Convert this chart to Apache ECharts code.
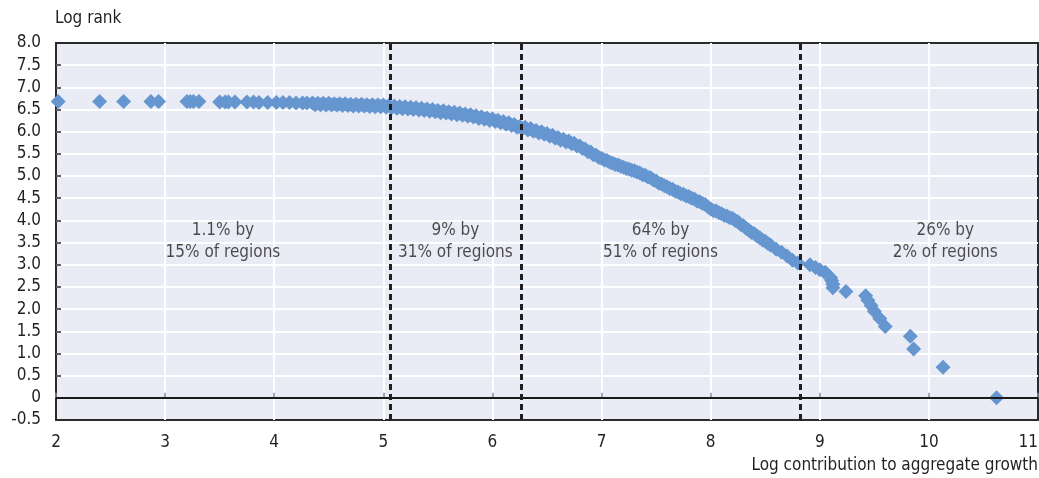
<!DOCTYPE html>
<html>
<head>
<meta charset="utf-8">
<script src="https://cdn.jsdelivr.net/npm/echarts@6/dist/echarts.min.js"></script>
<style>
html,body{margin:0;padding:0;background:#fff;}
#c{width:1039px;height:478px;}
</style>
</head>
<body>
<div id="c"></div>
<script>
// Log contribution to aggregate growth (x) and log rank (y)
var logContribution = [
  2.02,2.40,2.62,2.87,2.94,3.20,3.23,3.26,3.31,3.50,3.55,3.58,3.64,3.75,3.81,3.86,3.94,4.02,4.08,4.14,4.20,4.26,4.30,
  4.35,4.40,4.45,4.50,4.55,4.60,4.65,4.70,4.75,4.80,4.85,4.90,4.95,5.00,5.05,5.10,5.15,5.20,5.25,5.30,5.35,5.40,
  5.45,5.50,5.55,5.60,5.65,5.70,5.75,5.80,5.85,5.90,5.95,6.00,6.05,6.10,6.15,6.20,6.25,6.30,6.35,6.40,6.45,6.50,
  6.55,6.60,6.65,6.70,6.75,6.80,6.85,6.90,6.95,7.00,7.05,7.10,7.15,7.20,7.25,7.30,7.35,7.40,7.45,7.50,7.55,7.60,
  7.65,7.70,7.75,7.80,7.85,7.90,7.95,8.00,8.05,8.10,8.15,8.20,8.25,8.30,8.35,8.40,8.45,8.50,8.55,8.60,8.65,8.70,
  8.75,8.80,8.91,8.96,9.00,9.05,9.07,9.10,9.11,9.12,9.12,9.24,9.42,9.44,9.47,9.50,9.55,9.60,9.83,9.86,10.13,10.62
];
var logRank = [
  6.68,6.68,6.68,6.68,6.68,6.68,6.68,6.68,6.68,6.67,6.67,6.67,6.67,6.67,6.67,6.66,6.66,6.66,6.66,6.66,6.65,6.65,6.65,
  6.65,6.64,6.64,6.64,6.63,6.63,6.63,6.62,6.62,6.62,6.61,6.61,6.60,6.60,6.59,6.58,6.57,6.56,6.55,6.54,6.53,6.51,
  6.50,6.48,6.47,6.45,6.44,6.42,6.40,6.38,6.36,6.34,6.31,6.29,6.26,6.23,6.20,6.16,6.12,6.10,6.07,6.03,6.00,5.96,
  5.92,5.87,5.83,5.79,5.74,5.68,5.61,5.54,5.47,5.40,5.35,5.29,5.25,5.20,5.16,5.12,5.07,5.02,4.96,4.89,4.82,4.76,
  4.70,4.64,4.59,4.54,4.48,4.42,4.36,4.26,4.21,4.15,4.10,4.05,3.97,3.88,3.78,3.70,3.61,3.53,3.44,3.35,3.28,3.20,
  3.10,3.04,3.00,2.94,2.89,2.83,2.77,2.71,2.64,2.56,2.48,2.40,2.30,2.20,2.08,1.95,1.79,1.61,1.39,1.10,0.69,0.00
];
// Extra points on the lower edge of the dense band
var bandContribution = [
  4.375,4.425,4.475,4.525,4.575,4.625,4.675,4.725,4.775,4.825,4.875,4.925,4.975,5.025,5.075,5.125,5.175,5.225,
  5.275,5.325,5.375,5.425,5.475,5.525,5.575,5.625,5.675,5.725,5.775,5.825,5.875,5.925,5.975,6.025,6.075,6.125,
  6.175,6.225,6.275,6.325,6.375,6.425,6.475,6.525,6.575,6.625,6.675,6.725,6.775,6.825,6.875,6.925,6.975,7.025,
  7.075,7.125,7.175,7.225,7.275,7.325,7.375,7.425,7.475,7.525,7.575,7.625,7.675,7.725,7.775,7.825,7.875,7.925,
  7.975,8.025,8.075,8.125,8.175,8.225,8.275,8.325,8.375,8.425,8.475,8.525
];
var bandRank = [
  6.61,6.61,6.60,6.60,6.60,6.59,6.59,6.58,6.58,6.58,6.57,6.56,6.56,6.55,6.54,6.53,6.52,6.51,
  6.50,6.49,6.48,6.46,6.45,6.43,6.42,6.40,6.38,6.37,6.35,6.33,6.30,6.28,6.25,6.23,6.20,6.17,
  6.14,6.10,6.07,6.04,6.01,5.97,5.94,5.90,5.85,5.81,5.77,5.73,5.68,5.62,5.55,5.48,5.42,5.36,
  5.31,5.26,5.22,5.17,5.13,5.09,5.03,4.98,4.91,4.84,4.78,4.72,4.66,4.60,4.55,4.50,4.44,4.38,
  4.30,4.22,4.17,4.11,4.06,4.00,3.91,3.82,3.73,3.65,3.56,3.48
];
// Vertical dividers (x positions)
var dividers = [5.06, 6.26, 8.82];
// Annotations
var annotX = [3.53, 5.66, 7.54, 10.15];
var annotY = [3.53, 3.53, 3.53, 3.53];
var annotText = ['1.1% by\n15% of regions', '9% by\n31% of regions', '64% by\n51% of regions', '26% by\n2% of regions'];
// Tick labels
var xTickLabels = {2:'2',3:'3',4:'4',5:'5',6:'6',7:'7',8:'8',9:'9',10:'10',11:'11'};
var yTickLabels = ['-0.5','0','0.5','1.0','1.5','2.0','2.5','3.0','3.5','4.0','4.5','5.0','5.5','6.0','6.5','7.0','7.5','8.0'];

var FONT = "'Liberation Sans Narrow','DejaVu Sans Condensed','Roboto Condensed',sans-serif";
var TXT = '#231f20';
var FS = 17;

var points = logContribution.map(function(x, i){ return [x, logRank[i]]; })
  .concat(bandContribution.map(function(x, i){ return [x, bandRank[i]]; }));
var annots = annotX.map(function(x, i){ return {value:[x, annotY[i]], label:{formatter: annotText[i]}}; });

var chart = echarts.init(document.getElementById('c'), null, {renderer:'canvas'});
chart.setOption({
  animation:false,
  grid:{left:56, right:1, top:43, bottom:58, outerBoundsMode:'none', containLabel:false,
        show:true, backgroundColor:'#e9ecf5', borderColor:'#2b2b2b', borderWidth:2},
  xAxis:{
    type:'value', min:2, max:11, interval:1,
    axisLine:{show:false},
    axisTick:{show:true, inside:true, length:5, lineStyle:{color:'#8a8a8a', width:1.5}},
    splitLine:{show:true, showMinLine:false, showMaxLine:false, lineStyle:{color:'#ffffff', width:2}},
    axisLabel:{fontFamily:FONT, fontSize:FS, color:TXT, margin:14, alignMaxLabel:'right',
               formatter:function(v){return xTickLabels[v];}}
  },
  yAxis:{
    type:'value', min:-0.5, max:8, interval:0.5,
    axisLine:{show:false},
    axisTick:{show:true, inside:true, length:5, lineStyle:{color:'#2b2b2b', width:1.5}},
    splitLine:{show:true, showMinLine:false, showMaxLine:false, lineStyle:{color:'#ffffff', width:2}},
    axisLabel:{fontFamily:FONT, fontSize:FS, color:TXT, margin:15, formatter:function(v){return yTickLabels[Math.round((v+0.5)*2)];}}
  },
  graphic:[
    {type:'text', left:55, top:10, style:{text:'Log rank', font:FS+'px '+FONT, fill:TXT}},
    {type:'text', right:1, top:457, style:{text:'Log contribution to aggregate growth', font:FS+'px '+FONT, fill:TXT}}
  ],
  series:[
    {
      type:'scatter', symbol:'diamond', symbolSize:15,
      itemStyle:{color:'#6696d0', opacity:1},
      data:points, z:3,
      markLine:{
        silent:true, symbol:['none','none'], label:{show:false},
        data:[{yAxis:0, lineStyle:{type:'solid', color:'#1a1a1a', width:2}}]
      }
    },
    {
      type:'scatter', symbolSize:0, data:[], z:4,
      markLine:{
        silent:true, symbol:['none','none'], label:{show:false},
        lineStyle:{type:[6,4], color:'#231f20', width:3},
        data:dividers.map(function(d){return {xAxis:d};})
      }
    },
    {
      type:'scatter', symbolSize:0, z:5, data:annots,
      label:{show:true, position:'inside', fontFamily:FONT, fontSize:FS, color:TXT, lineHeight:22, align:'center'}
    }
  ]
});
</script>
</body>
</html>
